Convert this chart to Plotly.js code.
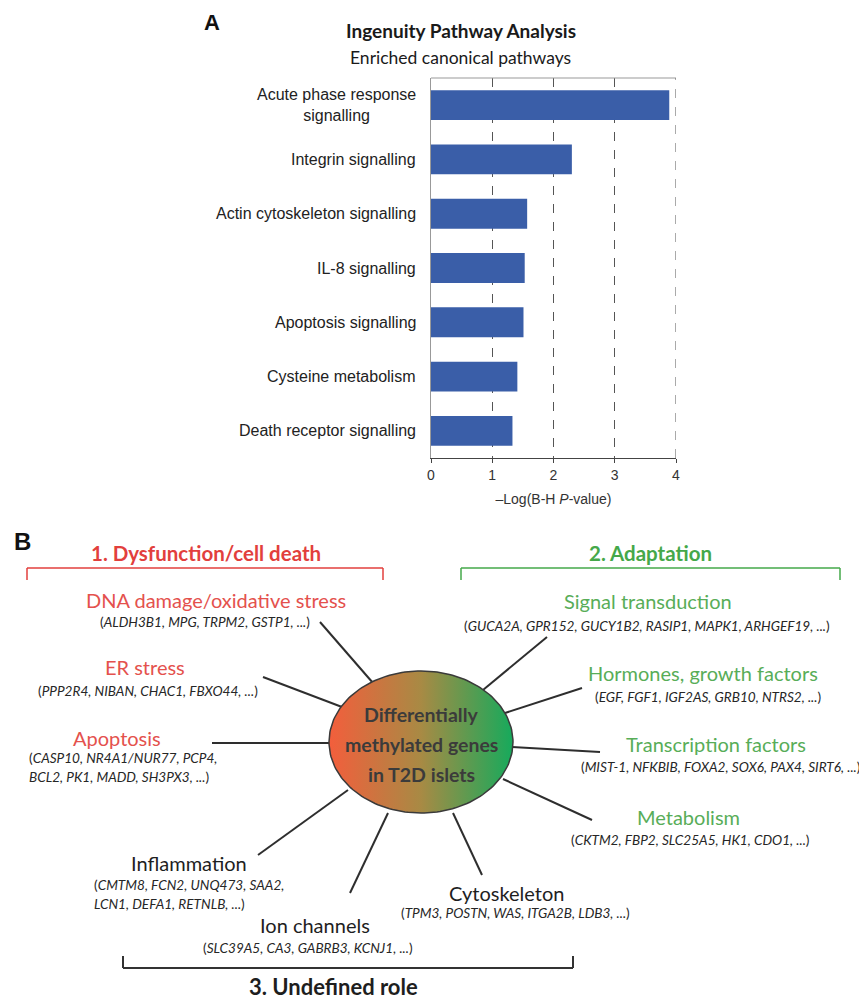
<!DOCTYPE html>
<html>
<head>
<meta charset="utf-8">
<script src="https://cdn.plot.ly/plotly-3.0.1.min.js"></script>
<style>
  html, body { margin: 0; padding: 0; background: #ffffff; }
  #fig { width: 859px; height: 1001px; }
</style>
</head>
<body>
<div id="fig"></div>
<script>
// ---------- Panel A: IPA enriched canonical pathways ----------
const pathways = [
  "Acute phase response<br>signalling",
  "Integrin signalling",
  "Actin cytoskeleton signalling",
  "IL-8 signalling",
  "Apoptosis signalling",
  "Cysteine metabolism",
  "Death receptor signalling"
];
const negLogP = [3.89, 2.30, 1.57, 1.53, 1.51, 1.41, 1.33];
const xTickVals = [0, 1, 2, 3, 4];

// ---------- Panel B: functional roles of the methylated genes ----------
const roleGroups = ["1. Dysfunction/cell death", "2. Adaptation", "3. Undefined role"];
const functionNames = [
  "DNA damage/oxidative stress",
  "ER stress",
  "Apoptosis",
  "Signal transduction",
  "Hormones, growth factors",
  "Transcription factors",
  "Metabolism",
  "Cytoskeleton",
  "Ion channels",
  "Inflammation"
];
const functionRole = [0, 0, 0, 1, 1, 1, 1, 2, 2, 2];
const geneLines = [
  ["ALDH3B1, MPG, TRPM2, GSTP1, ..."],
  ["PPP2R4, NIBAN, CHAC1, FBXO44, ..."],
  ["CASP10, NR4A1/NUR77, PCP4,", "BCL2, PK1, MADD, SH3PX3, ..."],
  ["GUCA2A, GPR152, GUCY1B2, RASIP1, MAPK1, ARHGEF19, ..."],
  ["EGF, FGF1, IGF2AS, GRB10, NTRS2, ..."],
  ["MIST-1, NFKBIB, FOXA2, SOX6, PAX4, SIRT6, ..."],
  ["CKTM2, FBP2, SLC25A5, HK1, CDO1, ..."],
  ["TPM3, POSTN, WAS, ITGA2B, LDB3, ..."],
  ["SLC39A5, CA3, GABRB3, KCNJ1, ..."],
  ["CMTM8, FCN2, UNQ473, SAA2,", "LCN1, DEFA1, RETNLB, ..."]
];
const hubLines = ["Differentially", "methylated genes", "in T2D islets"];

// ---------- page geometry and styles ----------
const W = 859, H = 1001;
const FONT_A = "Liberation Sans, Arial, sans-serif";
const FONT_B = "Lato, 'Open Sans', sans-serif";
const BAR_COLOR = "#3a5ea8";
const roleColors = ["#e23f3d", "#45a84a", "#1e1e1e"];
const functionColors = ["#e4514d", "#58ad58", "#1e1e1e"];
const geneColor = "#262626";

// diagram placement in page pixels (x right, y down)
const rolePos = [{ x: 206, y: 553 }, { x: 650, y: 553 }, { x: 333, y: 986 }];
const bracketPos = [
  { x0: 27, x1: 383, y: 568, tick: 12 },
  { x0: 461, x1: 840, y: 568, tick: 12 },
  { x0: 123, x1: 573, y: 968, tick: -12 }
];
const functionPos = [
  { hx: 216, hy: 600, gx: 205, gy: 622, align: "center", spoke: [373, 683, 320, 622] },
  { hx: 145, hy: 667, gx: 148, gy: 691, align: "center", spoke: [342, 707, 263, 677] },
  { hx: 117, hy: 738, gx: 27,  gy: 758, align: "left",   spoke: [330, 743, 212, 743] },
  { hx: 648, hy: 601, gx: 647, gy: 626, align: "center", spoke: [483, 690, 547, 637] },
  { hx: 703, hy: 673, gx: 708, gy: 697, align: "center", spoke: [505, 713, 582, 688] },
  { hx: 716, hy: 744, gx: 721, gy: 767, align: "center", spoke: [512, 747, 600, 752] },
  { hx: 688, hy: 817, gx: 690, gy: 840, align: "center", spoke: [503, 779, 592, 820] },
  { hx: 506, hy: 893, gx: 515, gy: 913, align: "center", spoke: [453, 813, 482, 875] },
  { hx: 315, hy: 925, gx: 308, gy: 948, align: "center", spoke: [388, 813, 350, 893] },
  { hx: 189, hy: 863, gx: 92,  gy: 885, align: "left",   spoke: [348, 790, 258, 855] }
];
const geneLineGap = 19;
const hub = { cx: 421, cy: 742, rx: 92, ry: 71, lineGap: 30 };

// ---------- traces ----------
const traces = [];

traces.push({
  type: "bar",
  orientation: "h",
  y: pathways,
  x: negLogP,
  width: 0.55,
  marker: { color: BAR_COLOR, line: { width: 0 } },
  hoverinfo: "skip",
  showlegend: false,
  xaxis: "x",
  yaxis: "y"
});

// hub ellipse outline, filled with a red-to-green gradient
const ex = [], ey = [];
for (let i = 0; i <= 180; i++) {
  const t = (i / 180) * 2 * Math.PI;
  ex.push(hub.cx + hub.rx * Math.cos(t));
  ey.push(hub.cy + hub.ry * Math.sin(t));
}
traces.push({
  type: "scatter",
  mode: "lines",
  x: ex,
  y: ey,
  xaxis: "x2",
  yaxis: "y2",
  fill: "toself",
  fillgradient: {
    type: "horizontal",
    colorscale: [[0, "#f35e3c"], [0.5, "#a88a44"], [1, "#16aa5c"]]
  },
  line: { color: "#3a3a3a", width: 1.5 },
  hoverinfo: "skip",
  showlegend: false
});

// ---------- annotations & shapes ----------
const annotations = [];
const shapes = [];

function pageText(text, x, y, font, extra) {
  return Object.assign({
    text: text, x: x, y: y, xref: "x2", yref: "y2",
    xanchor: "center", yanchor: "middle", showarrow: false, font: font
  }, extra || {});
}

// panel letters and panel A titles
annotations.push(pageText("<b>A</b>", 212, 22, { family: FONT_A, size: 22, color: "#111" }));
annotations.push(pageText("<b>B</b>", 22, 541, { family: FONT_A, size: 24, color: "#111" }));
annotations.push(pageText("<b>Ingenuity Pathway Analysis</b>", 461, 30, { family: FONT_B, size: 19, color: "#1a1a1a" }));
annotations.push(pageText("Enriched canonical pathways", 460, 57, { family: FONT_B, size: 17.5, color: "#1a1a1a" }));

// pathway labels, lines centred on each other and right-aligned to the axis
pathways.forEach(function (p) {
  annotations.push({
    text: p, x: 418 / W, xref: "paper", y: p, yref: "y",
    xanchor: "right", yanchor: "middle", align: "center", showarrow: false,
    font: { family: FONT_A, size: 16, color: "#222" }
  });
});

// frame of the bar chart: solid top edge and dashed right edge at x = 4
shapes.push({
  type: "line", xref: "x domain", yref: "y domain", x0: 0, x1: 1, y0: 1, y1: 1,
  line: { color: "#999", width: 1 }
});
shapes.push({
  type: "line", xref: "x", yref: "y domain",
  x0: xTickVals[xTickVals.length - 1], x1: xTickVals[xTickVals.length - 1], y0: 0, y1: 1,
  line: { color: "#555", width: 1, dash: "dash" }
});

// panel B: role headers and brackets
roleGroups.forEach(function (r, i) {
  annotations.push(pageText("<b>" + r + "</b>", rolePos[i].x, rolePos[i].y,
    { family: FONT_B, size: i === 2 ? 22 : 20.5, color: roleColors[i] }));
  const b = bracketPos[i];
  const col = i === 2 ? "#333" : roleColors[i];
  const lw = i === 2 ? 2 : 1.5;
  shapes.push({ type: "line", xref: "x2", yref: "y2", x0: b.x0, x1: b.x1, y0: b.y, y1: b.y, line: { color: col, width: lw } });
  shapes.push({ type: "line", xref: "x2", yref: "y2", x0: b.x0, x1: b.x0, y0: b.y, y1: b.y + b.tick, line: { color: col, width: lw } });
  shapes.push({ type: "line", xref: "x2", yref: "y2", x0: b.x1, x1: b.x1, y0: b.y, y1: b.y + b.tick, line: { color: col, width: lw } });
});

// panel B: function categories, gene examples and spokes
functionNames.forEach(function (name, i) {
  const pos = functionPos[i];
  annotations.push(pageText(name, pos.hx, pos.hy,
    { family: FONT_B, size: 20, color: functionColors[functionRole[i]] }));
  geneLines[i].forEach(function (line, k) {
    let txt = "<i>" + line + "</i>";
    if (k === 0) txt = "(" + txt;
    if (k === geneLines[i].length - 1) txt = txt + ")";
    annotations.push(pageText(txt, pos.gx, pos.gy + k * geneLineGap,
      { family: FONT_B, size: 13.6, color: geneColor },
      { xanchor: pos.align === "left" ? "left" : "center", align: pos.align }));
  });
  const s = pos.spoke;
  shapes.push({
    type: "line", xref: "x2", yref: "y2", layer: "below",
    x0: s[0], y0: s[1], x1: s[2], y1: s[3],
    line: { color: "#2e2e2e", width: 2 }
  });
});

// text inside the hub
hubLines.forEach(function (t, k) {
  annotations.push(pageText("<b>" + t + "</b>", hub.cx, hub.cy - hub.lineGap + k * hub.lineGap + 2,
    { family: FONT_B, size: 19.5, color: "#3b3b3b" }));
});

// ---------- layout ----------
const layout = {
  width: W,
  height: H,
  margin: { l: 0, r: 0, t: 0, b: 0 },
  paper_bgcolor: "#ffffff",
  plot_bgcolor: "rgba(0,0,0,0)",
  showlegend: false,
  xaxis: {
    domain: [431 / W, 676 / W],
    range: [0, 4],
    tickvals: xTickVals,
    ticks: "outside",
    ticklen: 4,
    tickcolor: "#444",
    showline: true,
    linecolor: "#444",
    linewidth: 1,
    showgrid: true,
    gridcolor: "#555",
    griddash: "dash",
    gridwidth: 1,
    zeroline: false,
    tickfont: { family: FONT_A, size: 14, color: "#333" },
    title: { text: "\u2013Log(B-H <i>P</i>-value)", font: { family: FONT_A, size: 14, color: "#333" }, standoff: 12 },
    fixedrange: true
  },
  yaxis: {
    domain: [1 - 458 / H, 1 - 78 / H],
    type: "category",
    categoryorder: "array",
    categoryarray: pathways,
    range: [6.5, -0.5],
    showline: true,
    linecolor: "#999",
    linewidth: 1,
    showticklabels: false,
    ticks: "",
    showgrid: false,
    zeroline: false,
    fixedrange: true
  },
  xaxis2: { domain: [0, 1], range: [0, W], visible: false, fixedrange: true, anchor: "y2" },
  yaxis2: { domain: [0, 1], range: [H, 0], visible: false, fixedrange: true, anchor: "x2" },
  annotations: annotations,
  shapes: shapes
};

Plotly.newPlot("fig", traces, layout, { staticPlot: true, displayModeBar: false });
</script>
</body>
</html>
